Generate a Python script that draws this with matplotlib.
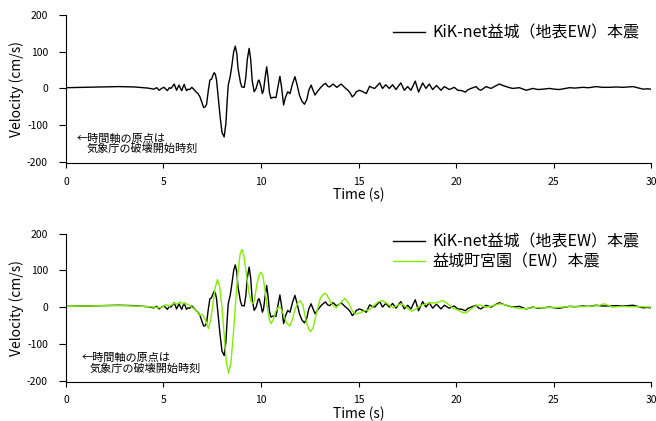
import matplotlib
matplotlib.use('Agg')
import matplotlib.pyplot as plt

plt.rcParams['font.family'] = ['Noto Sans CJK JP', 'DejaVu Sans']
plt.rcParams['axes.unicode_minus'] = False

# KiK-net 益城 (surface EW)
kik_t = [0, 1, 2, 2.7, 3.5, 4.2, 4.5, 4.65, 4.78, 4.9, 5.03, 5.12, 5.2, 5.3, 5.38, 5.47, 5.55,
         5.62, 5.67, 5.74, 5.8, 5.87, 5.94, 6.0, 6.06, 6.12, 6.18, 6.26, 6.35, 6.45, 6.55, 6.66,
         6.77, 6.87, 6.97, 7.06, 7.14, 7.21, 7.3, 7.38, 7.46, 7.53, 7.6, 7.66, 7.72, 7.8, 7.9, 8.0,
         8.11, 8.2, 8.27, 8.32, 8.37, 8.42, 8.5, 8.6, 8.68, 8.76, 8.82, 8.88, 8.95, 9.02, 9.14,
         9.22, 9.3, 9.39, 9.47, 9.55, 9.65, 9.75, 9.85, 9.9, 10.0, 10.07, 10.13, 10.2, 10.29,
         10.36, 10.43, 10.51, 10.64, 10.77, 10.87, 10.97, 11.05, 11.16, 11.25, 11.37, 11.49, 11.6,
         11.74, 11.85, 11.97, 12.1, 12.23, 12.35, 12.45, 12.57, 12.67, 12.77, 12.9, 13.08, 13.2,
         13.31, 13.42, 13.52, 13.69, 13.89, 14.11, 14.3, 14.46, 14.57, 14.68, 14.78, 14.89, 15.05,
         15.23, 15.4, 15.57, 15.7, 15.83, 16.09, 16.23, 16.4, 16.58, 16.75, 16.92, 17.17, 17.35,
         17.52, 17.69, 17.91, 18.08, 18.29, 18.46, 18.63, 18.8, 19.0, 19.23, 19.4, 19.66, 19.91,
         20.09, 20.3, 20.48, 20.6, 20.77, 21.03, 21.15, 21.28, 21.54, 21.8, 22.0, 22.23, 22.4,
         22.57, 22.75, 22.91, 23.25, 23.6, 23.94, 24.2, 24.45, 24.79, 25.05, 25.3, 25.6, 25.82,
         26.1, 26.5, 26.8, 27.19, 27.5, 27.88, 28.2, 28.56, 28.8, 29.08, 29.3, 29.6, 29.8, 30]
kik_v = [2, 3, 4, 5, 4, 1, -2, 2, -5, 0, 3, -2, -6, 2, 0, 6, 12,
         2, -5, 3, 9, 0, -6, 4, 11, 2, -6, -2, -3, 3, -2, -9,
         -14, -23, -38, -52, -50, -43, -5, 23, 25, 35, 43, 38, 23, -20, -75, -120,
         -132, -95, -30, 9, 20, 32, 60, 100, 115, 95, 55, 36, 15, 4, 3,
         30, 80, 109, 80, 20, -9, 0, 20, 23, 5, -14, -5, 25, 59,
         30, -10, -27, -24, -25, 5, 33, 5, -45, -25, -9, -14, 10,
         32, 10, -18, -35, -43, -30, -5, 9, -5, -18, -8, 4, 10,
         14, 6, 4, 12, 3, 12, 2, -5, -12, -23, -18, -9, -5,
         -9, -14, 6, 2, 0, 15, 0, 10, 0, 10, -3, 15, -5,
         5, -5, 20, -10, 15, 0, 12, -3, 8, -5, 5, -3, 3,
         -5, -6, -10, -4, 0, 5, -2, -5, 5, 0, 6, 12, 8,
         5, 2, 0, 2, -5, 0, -3, -2, 0, -2, -3, 0, 2,
         1, 3, 2, 5, 3, 3, 4, 3, 4, 5, 2, -2, -1, -2]

# 益城町宮園 (EW)
miy_t = [0, 1, 2, 3, 4, 4.5, 4.86, 5.12, 5.3, 5.55, 5.7, 5.85, 6.0, 6.14, 6.3, 6.5, 6.7, 6.85,
         7.0, 7.15, 7.31, 7.42, 7.54, 7.66, 7.77, 7.88, 8.0, 8.12, 8.22, 8.34, 8.46, 8.58, 8.7,
         8.82, 8.93, 9.02, 9.12, 9.25, 9.38, 9.5, 9.57, 9.66, 9.78, 9.9, 10.0, 10.1, 10.22, 10.35,
         10.45, 10.52, 10.62, 10.75, 10.9, 11.0, 11.15, 11.3, 11.47, 11.6, 11.75, 11.9, 12.02,
         12.15, 12.3, 12.45, 12.55, 12.68, 12.85, 13.05, 13.25, 13.4, 13.6, 13.85, 14.05, 14.3,
         14.5, 14.7, 14.88, 15.1, 15.3, 15.56, 15.8, 16.0, 16.25, 16.5, 16.76, 17.0, 17.2, 17.45,
         17.71, 17.95, 18.2, 18.63, 19.0, 19.32, 19.6, 19.83, 20.1, 20.35, 20.51, 20.7, 20.95,
         21.2, 21.54, 21.9, 22.23, 22.55, 22.91, 23.3, 23.6, 24.0, 24.5, 25.0, 25.5, 26.0, 26.5,
         27.0, 27.3, 27.6, 27.85, 28.0, 28.5, 29.0, 29.5, 30]
miy_v = [2, 3, 4, 4, 2, 0, -2, 7, 2, 11, 8, 14, 9, 10, 5, -2, -10, -22,
         -20, -35, -58, -35, 10, 55, 75, 55, 0, -80, -150, -180, -150, -75, 15,
         95, 145, 157, 140, 90, 40, 14, 10, 18, 60, 88, 95, 85, 40, -10,
         -38, -45, -35, -12, 0, -2, -20, -42, -52, -35, -5, 12, 17,
         5, -35, -60, -67, -55, -15, 25, 38, 32, 10, -2, 10, 24,
         10, -12, -19, -15, -10, -7, 5, 14, 18, 8, -2, 5, 9, 0,
         -11, -5, 5, 11, 12, 18, 8, -3, -8, -15, -16, -8, 2,
         6, -1, 4, 9, 6, -1, -4, -4, -1, -2, -1, 0, 2, 1,
         3, 4, 9, 4, 0, 2, 1, 1, 0]

kik_label = 'KiK-net益城（地表EW）本震'
miy_label = '益城町宮園（EW）本震'
note1 = '←時間軸の原点は'
note2 = '気象庁の破壊開始時刻'

fig = plt.figure(figsize=(6.56, 4.21), dpi=100)
ax1 = fig.add_axes([0.1006, 0.612, 0.8918, 0.3524])
ax2 = fig.add_axes([0.1006, 0.0926, 0.8918, 0.3524])

ax1.plot(kik_t, kik_v, color='black', lw=1.0, label=kik_label)
ax2.plot(kik_t, kik_v, color='black', lw=1.0, label=kik_label)
ax2.plot(miy_t, miy_v, color='#80F000', lw=1.0, label=miy_label)

for ax in (ax1, ax2):
    ax.set_xlim(0, 30)
    ax.set_ylim(-204, 200)
    ax.set_xticks([0, 5, 10, 15, 20, 25, 30])
    ax.set_yticks([-200, -100, 0, 100, 200])
    ax.spines['top'].set_visible(False)
    ax.spines['right'].set_visible(False)
    for s in ('left', 'bottom'):
        ax.spines[s].set_linewidth(0.8)
    ax.tick_params(axis='y', direction='out', length=5, width=0.8, pad=8, labelsize=7.5)
    ax.tick_params(axis='x', direction='out', length=3.6, width=0.8, pad=6, labelsize=7.5)
    ax.set_xlabel('Time (s)', fontsize=10)
    ax.xaxis.set_label_coords(0.5, -0.165)
    ax.set_ylabel('Velocity (cm/s)', fontsize=10)
    ax.yaxis.set_label_coords(-0.072, 0.5)

ax1.text(0.56, -138, note1, fontsize=8, va='center')
ax1.text(1.03, -165, note2, fontsize=8, va='center')
ax2.text(0.8, -137, note1, fontsize=8, va='center')
ax2.text(1.21, -168, note2, fontsize=8, va='center')

ax1.legend(loc='center left', bbox_to_anchor=(0.599, 0.9216), bbox_transform=fig.transFigure,
           frameon=False, fontsize=11.5, handlelength=2.0, handletextpad=0.5,
           borderpad=0, borderaxespad=0)
ax2.legend(loc='center left', bbox_to_anchor=(0.599, 0.4014), bbox_transform=fig.transFigure,
           frameon=False, fontsize=11.5, handlelength=2.0, handletextpad=0.5,
           borderpad=0, borderaxespad=0, labelspacing=0.15)

fig.savefig('out.png', dpi=100)
